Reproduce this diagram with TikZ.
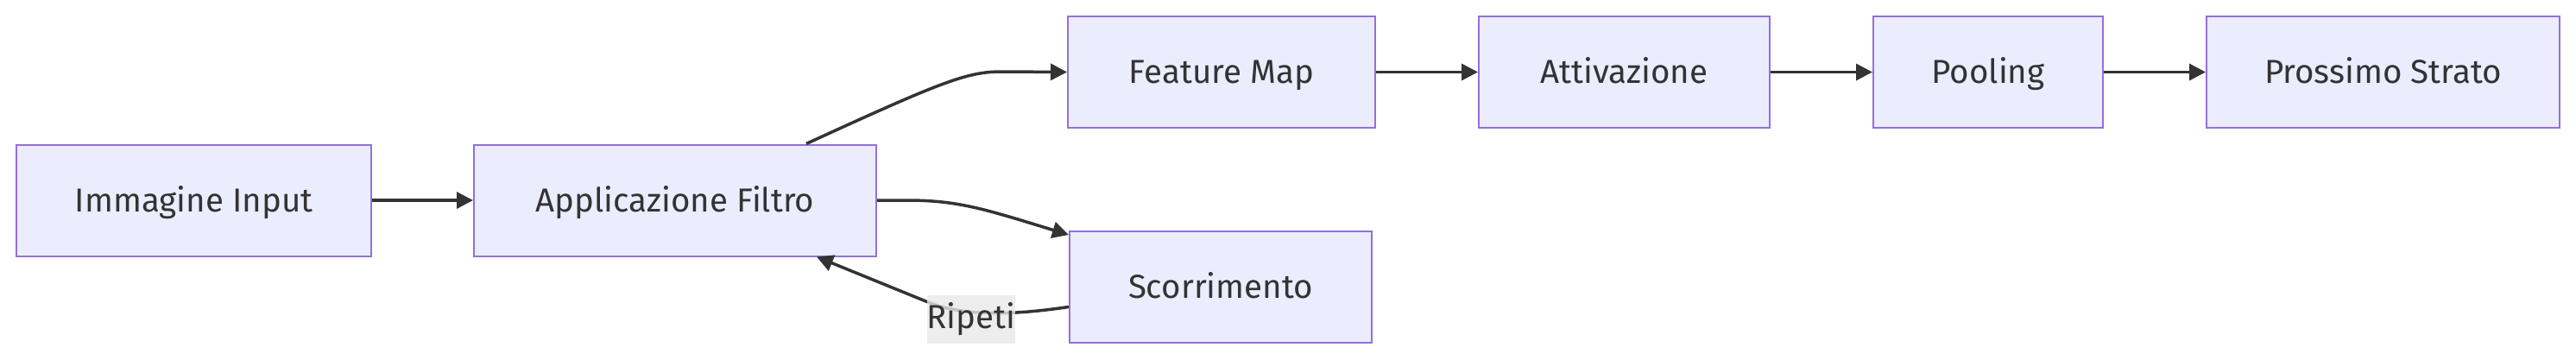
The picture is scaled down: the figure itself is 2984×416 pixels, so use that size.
\documentclass[tikz,border=0pt]{standalone}
\usepackage{fontspec}
\setmainfont{Fira Sans}
\usetikzlibrary{arrows.meta}
\definecolor{nodefill}{HTML}{ECECFF}
\definecolor{nodeborder}{HTML}{9370DB}
\definecolor{linecol}{HTML}{333333}
\definecolor{labelbg}{HTML}{E8E8E8}
\tikzset{
  box/.style={draw=nodeborder, fill=nodefill, line width=2pt, minimum height=129pt, inner sep=0pt, text=linecol, font=\fontsize{38.5pt}{42pt}\selectfont, text height=28.9pt, text depth=2.3pt},
  conn/.style={draw=linecol, line width=3.5pt, -{Triangle[length=19pt,width=19pt]}},
  elabel/.style={fill=labelbg, fill opacity=0.8, text opacity=1, text=linecol, inner sep=0pt, minimum width=100pt, minimum height=56pt, font=\fontsize{38.5pt}{42pt}\selectfont}
}
\begin{document}
\begin{tikzpicture}[x=1pt,y=-1pt]
\useasboundingbox (0,0) rectangle (2984,416);
\node[box, minimum width=411pt] (A) at (224.5,232) {Immagine Input};
\node[box, minimum width=466pt] (B) at (782,232) {Applicazione Filtro};
\node[box, minimum width=356pt] (C) at (1415,83.5) {Feature Map};
\node[box, minimum width=337pt] (D) at (1881.5,83.5) {Attivazione};
\node[box, minimum width=266pt] (E) at (2303,83.5) {Pooling};
\node[box, minimum width=409pt] (F) at (2760.5,83.5) {Prossimo Strato};
\node[box, minimum width=350pt] (G) at (1414,332.5) {Scorrimento};
\draw[conn] (A) -- (B);
\draw[conn] ([xshift=152pt]B.north) .. controls (1090,95) and (1120,83) .. (1160,83) -- (C.west);
\draw[conn] (C) -- (D);
\draw[conn] (D) -- (E);
\draw[conn] (E) -- (F);
\draw[conn] (B.east) -- (1050,232) .. controls (1110,232) and (1140,242) .. ([yshift=-5pt]G.north west);
\draw[conn] ([yshift=-23pt]G.west) .. controls (1180,364) and (1120,368) .. (1075,350) -- ([xshift=164pt]B.south);
\node[elabel] (L) at (1125,370) {Ripeti};
\end{tikzpicture}
\end{document}
